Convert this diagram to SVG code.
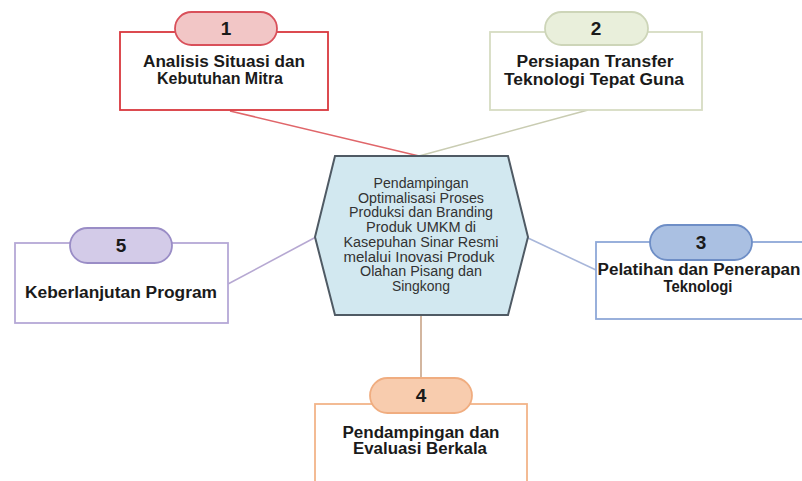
<svg xmlns="http://www.w3.org/2000/svg" width="802" height="481" viewBox="0 0 802 481">
<style>
.box{fill:#ffffff;stroke-width:1.8}
.pill{stroke-width:1.8}
.lbl{font-family:"Liberation Sans",Arial,sans-serif;font-weight:bold;font-size:16px;fill:#1a1a1a;text-anchor:middle}
.num{font-family:"Liberation Sans",Arial,sans-serif;font-weight:bold;font-size:19px;fill:#1a1a1a;text-anchor:middle}
.hex{font-family:"Liberation Sans",Arial,sans-serif;font-size:14px;fill:#333333;text-anchor:middle}
.con{fill:none;stroke-width:1.6}
</style>
<rect width="802" height="481" fill="#ffffff"/>
<g id="connectors">
<line class="con" x1="230" y1="111" x2="419" y2="156" stroke="#e0666a"/>
<line class="con" x1="588" y1="110" x2="419" y2="156" stroke="#c9ccb2"/>
<line class="con" x1="228" y1="284" x2="316" y2="237" stroke="#b6a8d2"/>
<line class="con" x1="528" y1="238" x2="596" y2="270" stroke="#a8b6da"/>
<line class="con" x1="421" y1="315" x2="421" y2="378" stroke="#c8a488"/>
</g>
<g id="center">
<polygon points="335,156 508,156 528,237 508,315 335,315 315,237" fill="#d2e8f0" stroke="#4f5a64" stroke-width="2"/>
<text class="hex" x="421" y="188" textLength="95" lengthAdjust="spacingAndGlyphs">Pendampingan</text>
<text class="hex" x="421" y="202.7" textLength="126" lengthAdjust="spacingAndGlyphs">Optimalisasi Proses</text>
<text class="hex" x="421" y="217.4" textLength="144" lengthAdjust="spacingAndGlyphs">Produksi dan Branding</text>
<text class="hex" x="421" y="232.1" textLength="110" lengthAdjust="spacingAndGlyphs">Produk UMKM di</text>
<text class="hex" x="421" y="246.8" textLength="155" lengthAdjust="spacingAndGlyphs">Kasepuhan Sinar Resmi</text>
<text class="hex" x="419" y="261.5" textLength="151" lengthAdjust="spacingAndGlyphs">melalui Inovasi Produk</text>
<text class="hex" x="421" y="276.2" textLength="122" lengthAdjust="spacingAndGlyphs">Olahan Pisang dan</text>
<text class="hex" x="421" y="290.9" textLength="58" lengthAdjust="spacingAndGlyphs">Singkong</text>
</g>
<g id="node1">
<rect class="box" x="120" y="32" width="208" height="78" stroke="#d9383e"/>
<rect class="pill" x="175" y="12" width="102" height="33" rx="16.5" fill="#f2c6c6" stroke="#d9505a"/>
<text class="num" x="226" y="35">1</text>
<text class="lbl" x="224" y="67" textLength="162" lengthAdjust="spacingAndGlyphs">Analisis Situasi dan</text>
<text class="lbl" x="220" y="83.5" textLength="126" lengthAdjust="spacingAndGlyphs">Kebutuhan Mitra</text>
</g>
<g id="node2">
<rect class="box" x="490" y="32" width="212" height="78" stroke="#d6dcc2"/>
<rect class="pill" x="545" y="12" width="103" height="33" rx="16.5" fill="#e9efdb" stroke="#cdd5b8"/>
<text class="num" x="596" y="35">2</text>
<text class="lbl" x="595" y="67" textLength="157" lengthAdjust="spacingAndGlyphs">Persiapan Transfer</text>
<text class="lbl" x="594" y="84.5" textLength="180" lengthAdjust="spacingAndGlyphs">Teknologi Tepat Guna</text>
</g>
<g id="node3">
<rect class="box" x="596" y="242" width="210" height="77" stroke="#8ea8d8"/>
<rect class="pill" x="650" y="225" width="102" height="35" rx="17.5" fill="#aac0e2" stroke="#6e8ec6"/>
<text class="num" x="701" y="249">3</text>
<text class="lbl" x="699" y="275" textLength="203" lengthAdjust="spacingAndGlyphs">Pelatihan dan Penerapan</text>
<text class="lbl" x="698" y="292" textLength="69" lengthAdjust="spacingAndGlyphs">Teknologi</text>
</g>
<g id="node4">
<rect class="box" x="315" y="404" width="212" height="90" stroke="#f2b489"/>
<rect class="pill" x="370" y="378" width="102" height="35" rx="17.5" fill="#f8ccae" stroke="#f0ad80"/>
<text class="num" x="421" y="402">4</text>
<text class="lbl" x="421" y="437.5" textLength="157" lengthAdjust="spacingAndGlyphs">Pendampingan dan</text>
<text class="lbl" x="420" y="453.5" textLength="134" lengthAdjust="spacingAndGlyphs">Evaluasi Berkala</text>
</g>
<g id="node5">
<rect class="box" x="15" y="243" width="213" height="80" stroke="#b5a8d6"/>
<rect class="pill" x="70" y="228" width="102" height="35" rx="17.5" fill="#d3cbe8" stroke="#9a8dc6"/>
<text class="num" x="121" y="252">5</text>
<text class="lbl" x="121" y="298" textLength="192" lengthAdjust="spacingAndGlyphs">Keberlanjutan Program</text>
</g>
</svg>
